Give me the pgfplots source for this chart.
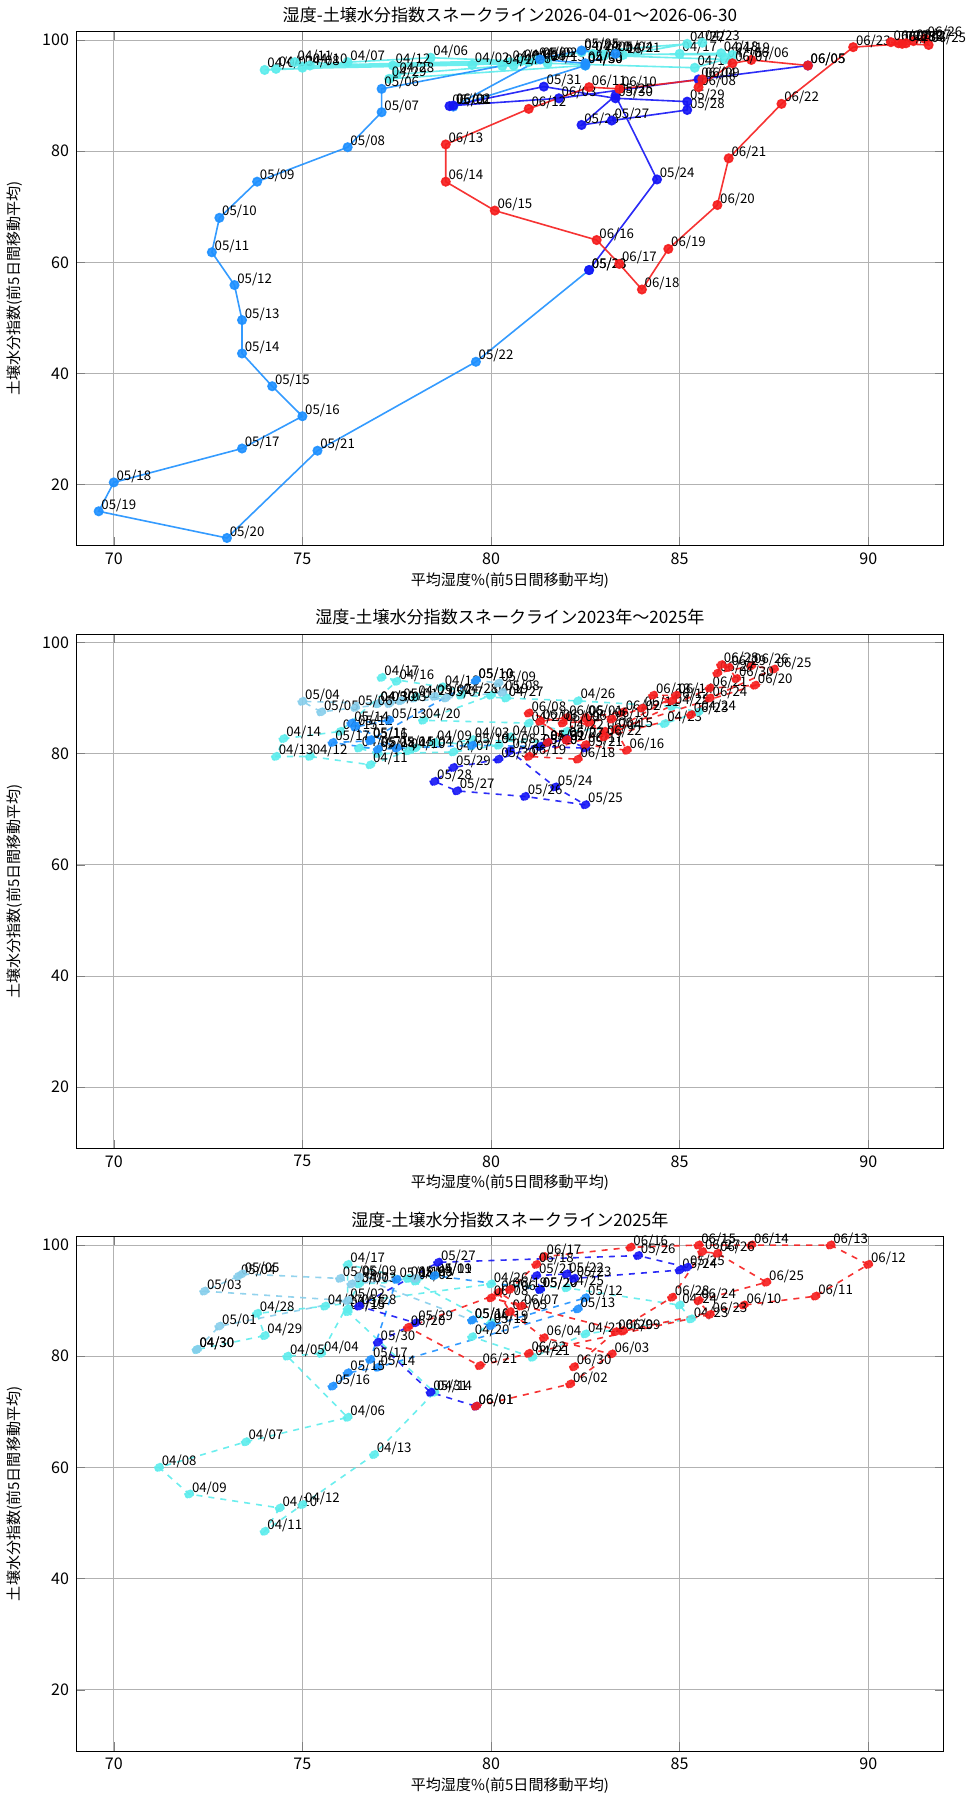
\documentclass[border=0pt]{standalone}
\usepackage{fontspec}
\setmainfont{Noto Sans CJK JP}
\usepackage{pgfplots}
\pgfplotsset{compat=1.18}
\definecolor{cA}{HTML}{5CECEC}
\definecolor{cB}{HTML}{87CEEB}
\definecolor{cC}{HTML}{1E90FF}
\definecolor{cD}{HTML}{1515F5}
\definecolor{cE}{HTML}{F51D1D}
\pgfplotsset{
 snk/.style={mark=*, mark size=2.1pt, line width=0.8pt, opacity=0.9, nodes near coords={\pgfplotspointmeta}, point meta=explicit symbolic,
  nodes near coords style={anchor=west, font=\fontsize{6.6}{8}\selectfont, text=black, opacity=1, inner sep=1pt, xshift=0pt, yshift=3pt}},
 base/.style={width=432pt, height=256pt, scale only axis, xmin=69, xmax=92, ymin=9, ymax=101.5,
  xtick={70,75,80,85,90}, ytick={20,40,60,80,100}, grid=major, grid style={gray!60},
  /pgf/number format/assume math mode=true, tick label style={font=\fontsize{8}{9}\selectfont},
  label style={font=\fontsize{7.5}{9}\selectfont}, title style={font=\fontsize{8.5}{10}\selectfont, yshift=-5pt},
  xlabel={平均湿度\%(前5日間移動平均)}, ylabel={土壌水分指数(前5日間移動平均)}, xlabel style={yshift=3pt}, ylabel style={yshift=3pt}}
}
\begin{document}
\begin{tikzpicture}
\begin{axis}[base, title={湿度-土壌水分指数スネークライン2026-04-01～2026-06-30}]
\addplot[color=cA, snk] table[meta=l]{
x y l
80.5 96 04/01
79.5 95.5 04/02
74.3 94.8 04/03
74.0 94.6 04/04
80.8 96.2 04/05
78.4 96.8 04/06
76.2 96.0 04/07
75.0 95.0 04/08
81.2 96.4 04/09
75.2 95.4 04/10
74.8 96.0 04/11
77.4 95.4 04/12
81.5 95.8 04/13
85.4 95.0 04/14
86.2 96.5 04/15
83.0 97.2 04/16
85.0 97.5 04/17
86.1 97.6 04/18
86.4 97.3 04/19
82.7 97.5 04/20
83.5 97.3 04/21
85.2 99.3 04/22
85.6 99.5 04/23
82.4 97.8 04/24
81.0 96.0 04/25
80.6 95.4 04/26
80.3 95.3 04/27
77.5 93.8 04/28
77.3 93.0 04/29
82.5 95.4 04/30
};
\addplot[color=cC, snk] table[meta=l]{
x y l
82.5 95.4 04/30
79.0 88.0 05/01
81.3 96.5 05/02
82.5 95.8 05/03
83.3 97.5 05/04
82.4 98.1 05/05
77.1 91.2 05/06
77.1 87.0 05/07
76.2 80.7 05/08
73.8 74.5 05/09
72.8 68.0 05/10
72.6 61.8 05/11
73.2 55.9 05/12
73.4 49.6 05/13
73.4 43.6 05/14
74.2 37.7 05/15
75.0 32.3 05/16
73.4 26.5 05/17
70.0 20.4 05/18
69.6 15.2 05/19
73.0 10.4 05/20
75.4 26.1 05/21
79.6 42.1 05/22
82.6 58.6 05/23
};
\addplot[color=cD, snk] table[meta=l]{
x y l
82.6 58.6 05/23
84.4 74.9 05/24
83.3 90.0 05/25
82.4 84.7 05/26
83.2 85.5 05/27
85.2 87.4 05/28
85.2 88.9 05/29
83.3 89.5 05/30
81.4 91.6 05/31
78.9 88.1 06/01
79.0 88.2 06/02
81.8 89.5 06/03
85.5 92.9 06/04
88.4 95.4 06/05
};
\addplot[color=cE, snk] table[meta=l]{
x y l
88.4 95.4 06/05
86.9 96.4 06/06
86.4 95.8 06/07
85.5 91.5 06/08
85.6 92.9 06/09
83.4 91.2 06/10
82.6 91.5 06/11
81.0 87.6 06/12
78.8 81.2 06/13
78.8 74.5 06/14
80.1 69.3 06/15
82.8 64.0 06/16
83.4 59.7 06/17
84.0 55.1 06/18
84.7 62.4 06/19
86.0 70.3 06/20
86.3 78.7 06/21
87.7 88.5 06/22
89.6 98.7 06/23
90.9 99.3 06/24
91.6 99.1 06/25
91.5 100.2 06/26
91.2 99.8 06/27
90.8 99.4 06/28
90.6 99.6 06/29
91.0 99.4 06/30
};
\end{axis}
\begin{axis}[base, at={(0,-300pt)}, title={湿度-土壌水分指数スネークライン2023年～2025年}]
\addplot[color=cA, snk, dashed] table[meta=l]{
x y l
80.5 83 04/01
81.5 82 04/02
79.5 82.5 04/03
78.0 81 04/04
76.5 81 04/05
77.0 80 04/06
79.0 80.3 04/07
80.2 81.5 04/08
78.5 82 04/09
77.8 80.5 04/10
76.8 78.0 04/11
75.2 79.5 04/12
74.3 79.5 04/13
74.5 82.7 04/14
76.0 84 04/15
77.5 93.0 04/16
77.1 93.7 04/17
78.7 92.0 04/18
80.0 90.5 04/19
78.2 86 04/20
81.0 85.5 04/21
82.0 84.0 04/22
84.6 85.4 04/23
85.5 87.5 04/24
84.8 88.5 04/25
82.3 89.5 04/26
80.4 90.0 04/27
79.2 90.5 04/28
78.0 90.2 04/29
77.0 89.0 04/30
};
\addplot[color=cB, snk, dashed] table[meta=l]{
x y l
77.0 89.0 04/30
77.6 89.5 05/01
78.5 90.3 05/02
77.3 89.0 05/03
75.0 89.4 05/04
75.5 87.5 05/05
76.4 88.3 05/06
78.8 90.0 05/07
80.3 91.0 05/08
80.2 92.7 05/09
79.6 93.2 05/10
};
\addplot[color=cC, snk, dashed] table[meta=l]{
x y l
79.6 93.2 05/10
76.8 82.5 05/11
76.4 84.8 05/12
77.3 86.0 05/13
76.3 85.5 05/14
77.5 81.0 05/15
76.8 82.3 05/16
75.8 82.0 05/17
77.0 80.8 05/18
79.5 81.5 05/19
81.3 81.3 05/20
};
\addplot[color=cD, snk, dashed] table[meta=l]{
x y l
81.3 81.3 05/20
82.5 81.0 05/21
82.0 82.6 05/22
80.5 80.5 05/23
81.7 74.0 05/24
82.5 70.8 05/25
80.9 72.3 05/26
79.1 73.3 05/27
78.5 75.0 05/28
79.0 77.5 05/29
80.2 79.0 05/30
81.5 82.0 05/31
};
\addplot[color=cE, snk, dashed] table[meta=l]{
x y l
81.5 82.0 05/31
82.5 86.5 06/01
83.5 87.5 06/02
82.6 85.6 06/03
83.0 84.0 06/04
82.0 86.5 06/05
81.3 85.8 06/06
82.0 82.5 06/07
81.0 87.3 06/08
81.9 85.5 06/09
83.2 86.2 06/10
84.0 88.2 06/11
84.8 89.5 06/12
84.3 90.5 06/13
84.9 90.5 06/14
83.3 84.4 06/15
83.6 80.6 06/16
82.5 81.6 06/17
82.3 79.0 06/18
81.0 79.5 06/19
87.0 92.3 06/20
85.8 91.8 06/21
83.0 83.0 06/22
85.3 87.0 06/23
85.8 90.0 06/24
87.5 95.2 06/25
86.9 95.8 06/26
86.0 94.5 06/27
86.1 96.0 06/28
86.3 95.5 06/29
86.5 93.5 06/30
};
\end{axis}
\begin{axis}[base, at={(0,-600pt)}, title={湿度-土壌水分指数スネークライン2025年}]
\addplot[color=cA, snk, dashed] table[meta=l]{
x y l
78.5 94.5 04/01
78.0 93.5 04/02
76.5 93.0 04/03
75.5 80.5 04/04
74.6 80.0 04/05
76.2 69.0 04/06
73.5 64.6 04/07
71.2 60.0 04/08
72.0 55.2 04/09
74.4 52.7 04/10
74.0 48.5 04/11
75.0 53.3 04/12
76.9 62.3 04/13
78.5 73.5 04/14
76.2 88.0 04/15
76.2 88.5 04/16
76.2 96.5 04/17
77.8 94.0 04/18
80.0 86 04/19
79.5 83.5 04/20
81.1 79.8 04/21
82.5 84.0 04/22
85.3 86.7 04/23
85.0 89.2 04/24
82.0 92.3 04/25
80.0 93.0 04/26
75.6 89.0 04/27
73.8 87.7 04/28
74.0 83.7 04/29
72.2 81.2 04/30
};
\addplot[color=cB, snk, dashed] table[meta=l]{
x y l
72.2 81.2 04/30
72.8 85.4 05/01
76.2 90.0 05/02
72.4 91.7 05/03
73.3 94.4 05/04
73.4 94.8 05/05
76.0 94.0 05/06
76.3 93.0 05/07
78.0 94.0 05/08
76.5 94.2 05/09
79.5 86.5 05/10
};
\addplot[color=cC, snk, dashed] table[meta=l]{
x y l
79.5 86.5 05/10
80.0 85.5 05/11
82.5 90.5 05/12
82.3 88.5 05/13
77.0 78.0 05/14
76.2 77.0 05/15
75.8 74.6 05/16
76.8 79.4 05/17
77.5 93.8 05/18
78.5 94.5 05/19
81.3 92.0 05/20
};
\addplot[color=cD, snk, dashed] table[meta=l]{
x y l
81.3 92.0 05/20
81.2 94.5 05/21
82.0 94.8 05/22
82.2 94.0 05/23
85.0 95.5 05/24
85.2 96.0 05/25
83.9 98.1 05/26
78.6 96.9 05/27
76.5 89.0 05/28
78.0 86.0 05/29
77.0 82.5 05/30
78.4 73.5 05/31
79.6 71.0 06/01
};
\addplot[color=cE, snk, dashed] table[meta=l]{
x y l
79.6 71.0 06/01
82.1 75.0 06/02
83.2 80.4 06/03
81.4 83.3 06/04
80.5 88.0 06/05
80.2 91.5 06/06
80.8 89.0 06/07
80.0 90.5 06/08
83.5 84.5 06/09
86.7 89.2 06/10
88.6 90.8 06/11
90.0 96.5 06/12
89.0 100.0 06/13
86.9 100.0 06/14
85.5 100.0 06/15
83.7 99.6 06/16
81.4 97.9 06/17
81.2 96.5 06/18
80.5 92.0 06/19
77.8 85.2 06/20
79.7 78.3 06/21
81.0 80.5 06/22
85.8 87.5 06/23
85.5 90.0 06/24
87.3 93.3 06/25
86.0 98.5 06/26
85.6 98.8 06/27
84.8 90.6 06/28
83.3 84.4 06/29
82.2 78.1 06/30
};
\end{axis}
\end{tikzpicture}
\end{document}
